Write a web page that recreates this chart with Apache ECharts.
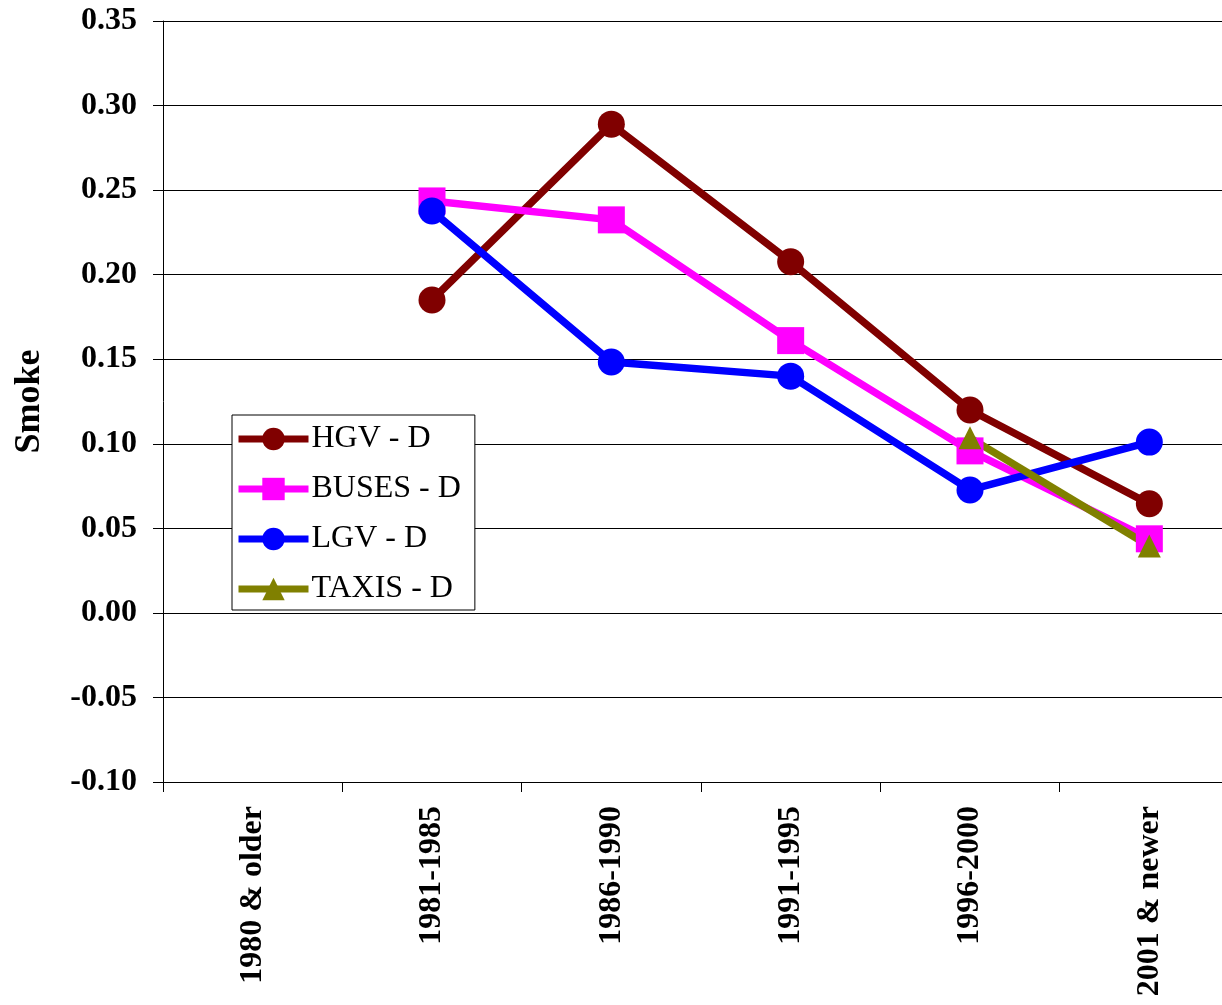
<!DOCTYPE html>
<html>
<head>
<meta charset="utf-8">
<script src="https://cdn.jsdelivr.net/npm/echarts@6/dist/echarts.min.js"></script>
<style>html,body{margin:0;padding:0;background:#fff;}#c{width:1222px;height:1005px;}</style>
</head>
<body>
<div id="c"></div>
<script>
const categories = ['1980 & older', '1981-1985', '1986-1990', '1991-1995', '1996-2000', '2001 & newer'];
const hgv = [null, 0.185, 0.289, 0.2076, 0.120, 0.0645];
const buses = [null, 0.2436, 0.2324, 0.161, 0.0958, 0.0438];
const lgv = [null, 0.2377, 0.1484, 0.140, 0.0727, 0.101];
const taxis = [null, null, null, null, 0.1035, 0.0396];
const yTicks = { min: -0.10, max: 0.35, interval: 0.05 };

const font = '"Liberation Serif", "Times New Roman", serif';
const chart = echarts.init(document.getElementById('c'), null, { renderer: 'canvas' });
function s(name, data, color, symbol, size) {
  return {
    name, type: 'line', data, symbol, symbolSize: size, connectNulls: false,
    lineStyle: { color, width: 7.5 }, itemStyle: { color },
    emphasis: { disabled: true }, animation: false
  };
}
chart.setOption({
  animation: false,
  grid: { left: 163, top: 21, bottom: 223, width: 1076, containLabel: false, outerBoundsMode: 'none' },
  xAxis: {
    type: 'category', data: categories, boundaryGap: true,
    axisLine: { onZero: false, lineStyle: { color: '#000', width: 1 } },
    axisTick: { show: true, length: 10, inside: false, alignWithLabel: false, lineStyle: { color: '#000' } },
    axisLabel: { rotate: 90, margin: 24, color: '#000', fontFamily: font, fontWeight: 'bold', fontSize: 32, interval: 0 },
    splitLine: { show: false }
  },
  yAxis: {
    type: 'value', min: yTicks.min, max: yTicks.max, interval: yTicks.interval,
    name: 'Smoke', nameLocation: 'middle', nameGap: 115, nameRotate: 90,
    nameTextStyle: { color: '#000', fontFamily: font, fontWeight: 'bold', fontSize: 36 },
    axisLine: { show: true, lineStyle: { color: '#000', width: 1 } },
    axisTick: { show: true, length: 10, lineStyle: { color: '#000' } },
    axisLabel: { margin: 26, color: '#000', fontFamily: font, fontWeight: 'bold', fontSize: 32,
      formatter: v => v.toFixed(2) },
    splitLine: { show: true, lineStyle: { color: '#000', width: 1 } }
  },
  legend: {
    orient: 'vertical', left: 232, top: 415, width: 244,
    backgroundColor: '#fff', borderColor: '#000', borderWidth: 1,
    padding: [8, 14, 5, 3], itemGap: 18, itemWidth: 70, itemHeight: 28,
    lineStyle: { width: 7 },
    textStyle: { color: '#000', fontFamily: font, fontSize: 32, padding: [0, 0, 0, -2] },
    data: ['HGV - D', 'BUSES - D', 'LGV - D', 'TAXIS - D']
  },
  series: [
    s('HGV - D', hgv, '#800000', 'circle', 27),
    s('BUSES - D', buses, '#ff00ff', 'rect', 27),
    s('LGV - D', lgv, '#0000ff', 'circle', 27),
    s('TAXIS - D', taxis, '#808000', 'triangle', 23)
  ]
});
</script>
</body>
</html>
